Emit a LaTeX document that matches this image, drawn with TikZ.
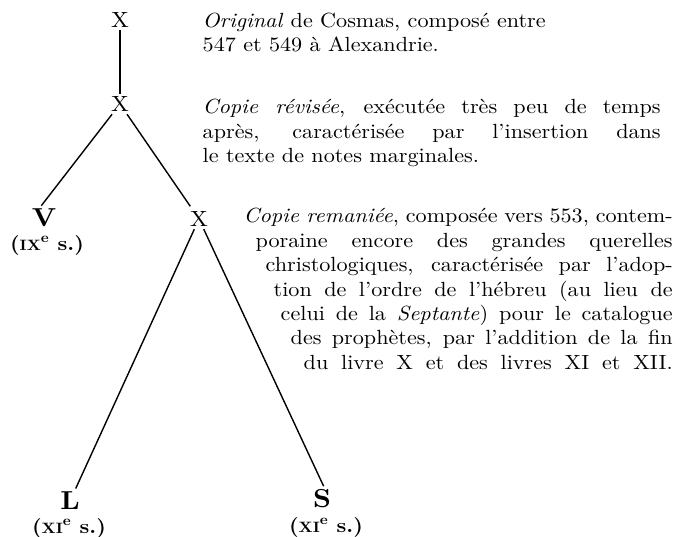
\documentclass[tikz,border=0pt]{standalone}
\usepackage{fontspec}
\setmainfont{lmroman10-regular.otf}[BoldFont=lmroman10-bold.otf, ItalicFont=lmroman10-italic.otf, BoldItalicFont=lmroman10-bolditalic.otf, FakeStretch=1.08]
\usetikzlibrary{positioning}

\newcommand{\sieclelabel}[1]{({\fontsize{15}{15}\selectfont #1}\textsuperscript{e}~s.)}

\begin{document}
\begin{tikzpicture}[x=1pt, y=1pt, line width=1.4pt,
  copie/.style={inner sep=2pt, font=\fontsize{22}{24.4}\selectfont},
  codex/.style={inner sep=1pt, font=\bfseries\fontsize{26}{26}\selectfont},
  siecle/.style={inner sep=0pt, font=\bfseries\fontsize{20}{20}\selectfont},
  notice/.style={inner sep=0pt, anchor=base west, font=\fontsize{20.5}{24.4}\selectfont}]
    \useasboundingbox (0,0) rectangle (680,537);

    % Stemma
    \node[copie] (x1) at (120,517) {X};
    \node[copie] (x2) at (120,433) {X};
    \node[codex] (v) at (44,319) {V};
    \node[copie] (x3) at (199,318) {X};
    \node[codex] (l) at (70,36) {L};
    \node[codex] (s) at (322,38) {S};

    % Siecles
    \node[siecle] (vdate) at (47,292) {\sieclelabel{IX}};
    \node[siecle] (ldate) at (69,9) {\sieclelabel{XI}};
    \node[siecle] (sdate) at (326,10) {\sieclelabel{XI}};

    % Filiation
    \draw (x1) -- (x2);
    \draw[shorten >=2pt] (x2) -- (v.110);
    \draw[shorten >=3pt] (x2) -- (x3);
    \draw[shorten >=2pt] (x3) -- (l);
    \draw[shorten >=2pt] (x3) -- (s.77);

    % Notices
    \node[notice, align=left] (orig) at (202,485)
        {\textit{Original} de Cosmas, composé entre\\547 et 549 à Alexandrie.};
    \node[notice, text width=458pt, align=justify] (revis) at (202,423)
        {\hyphenpenalty=10000
         \textit{Copie révisée}, exécutée très peu de temps\linebreak
         après, caractérisée par l’insertion dans\linebreak
         le texte de notes marginales.\par};
    \node[notice, text width=429pt, align=justify] (reman) at (243,314)
        {\hyphenpenalty=10000 \parfillskip=0pt
         \parshape 7 0pt 429pt 12pt 417pt 22pt 407pt 30pt 399pt 37pt 392pt 47pt 382pt 60pt 369pt
         \noindent\textit{Copie remaniée}, composée vers 553, contem-\linebreak
         poraine encore des grandes querelles\linebreak
         christologiques, caractérisée par l’adop-\linebreak
         tion de l’ordre de l’hébreu (au lieu de\linebreak
         celui de la \textit{Septante}) pour le catalogue\linebreak
         des prophètes, par l’addition de la fin\linebreak
         du livre X et des livres XI et XII.\par};
\end{tikzpicture}
\end{document}
